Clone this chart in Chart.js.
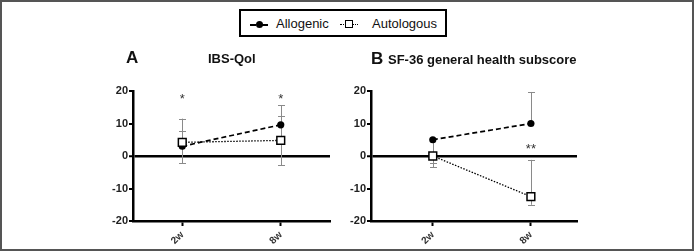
<!DOCTYPE html>
<html>
<head>
<meta charset="utf-8">
<script src="https://cdn.jsdelivr.net/npm/chart.js@4/dist/chart.umd.min.js"></script>
<style>
  html, body { margin:0; padding:0; background:#fff; }
  #wrap { position:relative; width:694px; height:251px; overflow:hidden; font-family:"Liberation Sans", Arial, sans-serif; }
  #frame { position:absolute; left:0; top:0; width:694px; height:251px; box-sizing:border-box; border:2px solid #555; border-right-width:2px; pointer-events:none; }
  canvas { position:absolute; left:0; top:0; }
  .ttl { position:absolute; font-weight:bold; color:#111; white-space:nowrap; }
  #legend { position:absolute; left:239px; top:9px; width:208px; height:28px; box-sizing:border-box; border:2px solid #000; background:#fff; }
  .lg { position:absolute; top:5px; font-size:13px; color:#111; }
  .ln { position:absolute; top:13px; height:0; width:18px; }
</style>
</head>
<body>
<div id="wrap">
  <canvas id="cA" width="694" height="251"></canvas>
  <canvas id="cB" width="694" height="251"></canvas>
  <div class="ttl" style="left:126px; top:48px; font-size:17px;">A</div>
  <div class="ttl" style="left:208px; top:51px; font-size:13px;">IBS-Qol</div>
  <div class="ttl" style="left:371px; top:49px; font-size:17px;">B</div>
  <div class="ttl" style="left:388px; top:52px; font-size:13px;">SF-36 general health subscore</div>
  <div id="legend">
    <div class="ln" style="left:9px; border-top:2px dashed #000;"></div>
    <div style="position:absolute; left:15px; top:10px; width:7px; height:7px; border-radius:50%; background:#000;"></div>
    <div class="lg" style="left:35px;">Allogenic</div>
    <div class="ln" style="left:99px; border-top:1.5px dotted #000;"></div>
    <div style="position:absolute; left:104px; top:9px; width:6px; height:6px; border:1.5px solid #000; background:#fff;"></div>
    <div class="lg" style="left:131px;">Autologous</div>
  </div>
  <div id="frame"></div>
</div>
<script>
// ---- data ----
const categories = ['2w', '8w'];
const yTickValues = [-20, -10, 0, 10, 20];
const seriesNames = ['Allogenic', 'Autologous'];

// Panel A: IBS-Qol
const allogenicA = [3.0, 9.6];
const allogenicAUpper = [7.8, 12.4];
const allogenicALower = [-2.2, null];
const autologousA = [4.2, 4.8];
const autologousAUpper = [11.5, 15.6];
const autologousALower = [null, -2.8];
const starsA = ['*', '*'];
const starsAY = [18.5, 18.5];

// Panel B: SF-36 general health subscore
const allogenicB = [5.0, 10.0];
const allogenicBUpper = [null, 19.7];
const allogenicBLower = [-3.5, null];
const autologousB = [0.0, -12.5];
const autologousBUpper = [null, -1.2];
const autologousBLower = [-2.3, -15.0];
const starsB = ['', '**'];
const starsBY = [null, 3.0];

// ---- helpers ----
const FONT = '"Liberation Sans", Arial, sans-serif';

function pts(vals) { return vals.map((v, i) => ({ x: i, y: v })); }

const errorBarPlugin = {
  id: 'errbars',
  beforeDatasetsDraw(chart) {
    const eb = chart.options.plugins.errbars;
    const ctx = chart.ctx, xs = chart.scales.x, ys = chart.scales.y;
    ctx.save();
    ctx.strokeStyle = '#8a8a8a';
    ctx.lineWidth = 1;
    eb.series.forEach(s => {
      s.values.forEach((v, i) => {
        const px = Math.round(xs.getPixelForValue(i)) + 0.5;
        const up = s.upper[i], lo = s.lower[i];
        const top = up != null ? up : v;
        const bot = lo != null ? lo : v;
        ctx.beginPath();
        ctx.moveTo(px, ys.getPixelForValue(top));
        ctx.lineTo(px, ys.getPixelForValue(bot));
        ctx.stroke();
        [up, lo].forEach(c => {
          if (c == null) return;
          const py = Math.round(ys.getPixelForValue(c)) + 0.5;
          ctx.beginPath();
          ctx.moveTo(px - 3.5, py);
          ctx.lineTo(px + 3.5, py);
          ctx.stroke();
        });
      });
    });
    ctx.restore();
  },
  afterDatasetsDraw(chart) {
    const eb = chart.options.plugins.errbars;
    const ctx = chart.ctx, xs = chart.scales.x, ys = chart.scales.y;
    ctx.save();
    ctx.fillStyle = '#333';
    ctx.font = '13px ' + FONT;
    ctx.textAlign = 'center';
    ctx.textBaseline = 'alphabetic';
    eb.stars.forEach((t, i) => {
      if (!t || eb.starsY[i] == null) return;
      ctx.fillText(t, xs.getPixelForValue(i), ys.getPixelForValue(eb.starsY[i]) + 7);
    });
    ctx.restore();
  }
};

function makeChart(id, area, xMin, xMax, allo, auto, alloUp, alloLo, autoUp, autoLo, stars, starsY) {
  const yW = 40, xH = 251 - area.bottom;
  return new Chart(document.getElementById(id), {
    type: 'line',
    data: {
      datasets: [
        {
          label: seriesNames[0], data: pts(allo),
          borderColor: '#000', borderWidth: 1.7, borderDash: [5, 3],
          pointStyle: 'circle', pointRadius: 3.6, pointBackgroundColor: '#000', pointBorderColor: '#000',
          pointBorderWidth: 0, fill: false, tension: 0, order: 2
        },
        {
          label: seriesNames[1], data: pts(auto),
          borderColor: '#000', borderWidth: 1.3, borderDash: [1.5, 1.5],
          pointStyle: 'rect', pointRadius: 5.5, pointBackgroundColor: '#fff', pointBorderColor: '#000',
          pointBorderWidth: 1.5, fill: false, tension: 0, order: 1
        }
      ]
    },
    options: {
      responsive: false, animation: false, devicePixelRatio: 1,
      layout: { padding: { left: area.left - yW, right: 694 - area.right, top: area.top, bottom: 0 } },
      plugins: {
        legend: { display: false }, tooltip: { enabled: false },
        errbars: {
          series: [
            { values: allo, upper: alloUp, lower: alloLo },
            { values: auto, upper: autoUp, lower: autoLo }
          ],
          stars: stars, starsY: starsY
        }
      },
      scales: {
        x: {
          type: 'linear', min: xMin, max: xMax,
          afterBuildTicks: s => { s.ticks = categories.map((c, i) => ({ value: i })); },
          afterFit: s => { s.height = xH; },
          ticks: {
            callback: v => categories[v],
            minRotation: 45, maxRotation: 45, padding: 3,
            font: { family: FONT, size: 10, weight: 'bold' }, color: '#333'
          },
          grid: { display: true, drawOnChartArea: false, drawTicks: true, tickLength: 5, tickColor: '#000', tickWidth: 2, color: '#000' },
          border: { display: true, color: '#000', width: 2.5 }
        },
        y: {
          type: 'linear', min: -20, max: 20,
          afterBuildTicks: s => { s.ticks = yTickValues.map(v => ({ value: v })); },
          afterFit: s => { s.width = yW; },
          ticks: {
            callback: v => String(v), padding: 1,
            font: { family: FONT, size: 11, weight: 'bold' }, color: '#222'
          },
          grid: {
            display: true, drawOnChartArea: true, drawTicks: true, tickLength: 4,
            color: c => (c.tick && c.tick.value === 0) ? '#000' : 'rgba(0,0,0,0)',
            lineWidth: c => (c.tick && c.tick.value === 0) ? 2.5 : 0,
            tickColor: '#000', tickWidth: 2
          },
          border: { display: true, color: '#000', width: 2.5 }
        }
      }
    },
    plugins: [errorBarPlugin]
  });
}

makeChart('cA', { left: 133, right: 330, top: 91, bottom: 221 }, -0.5, 1.5,
  allogenicA, autologousA, allogenicAUpper, allogenicALower, autologousAUpper, autologousALower, starsA, starsAY);
makeChart('cB', { left: 371, right: 577, top: 91, bottom: 221 }, -0.63, 1.47,
  allogenicB, autologousB, allogenicBUpper, allogenicBLower, autologousBUpper, autologousBLower, starsB, starsBY);
</script>
</body>
</html>
